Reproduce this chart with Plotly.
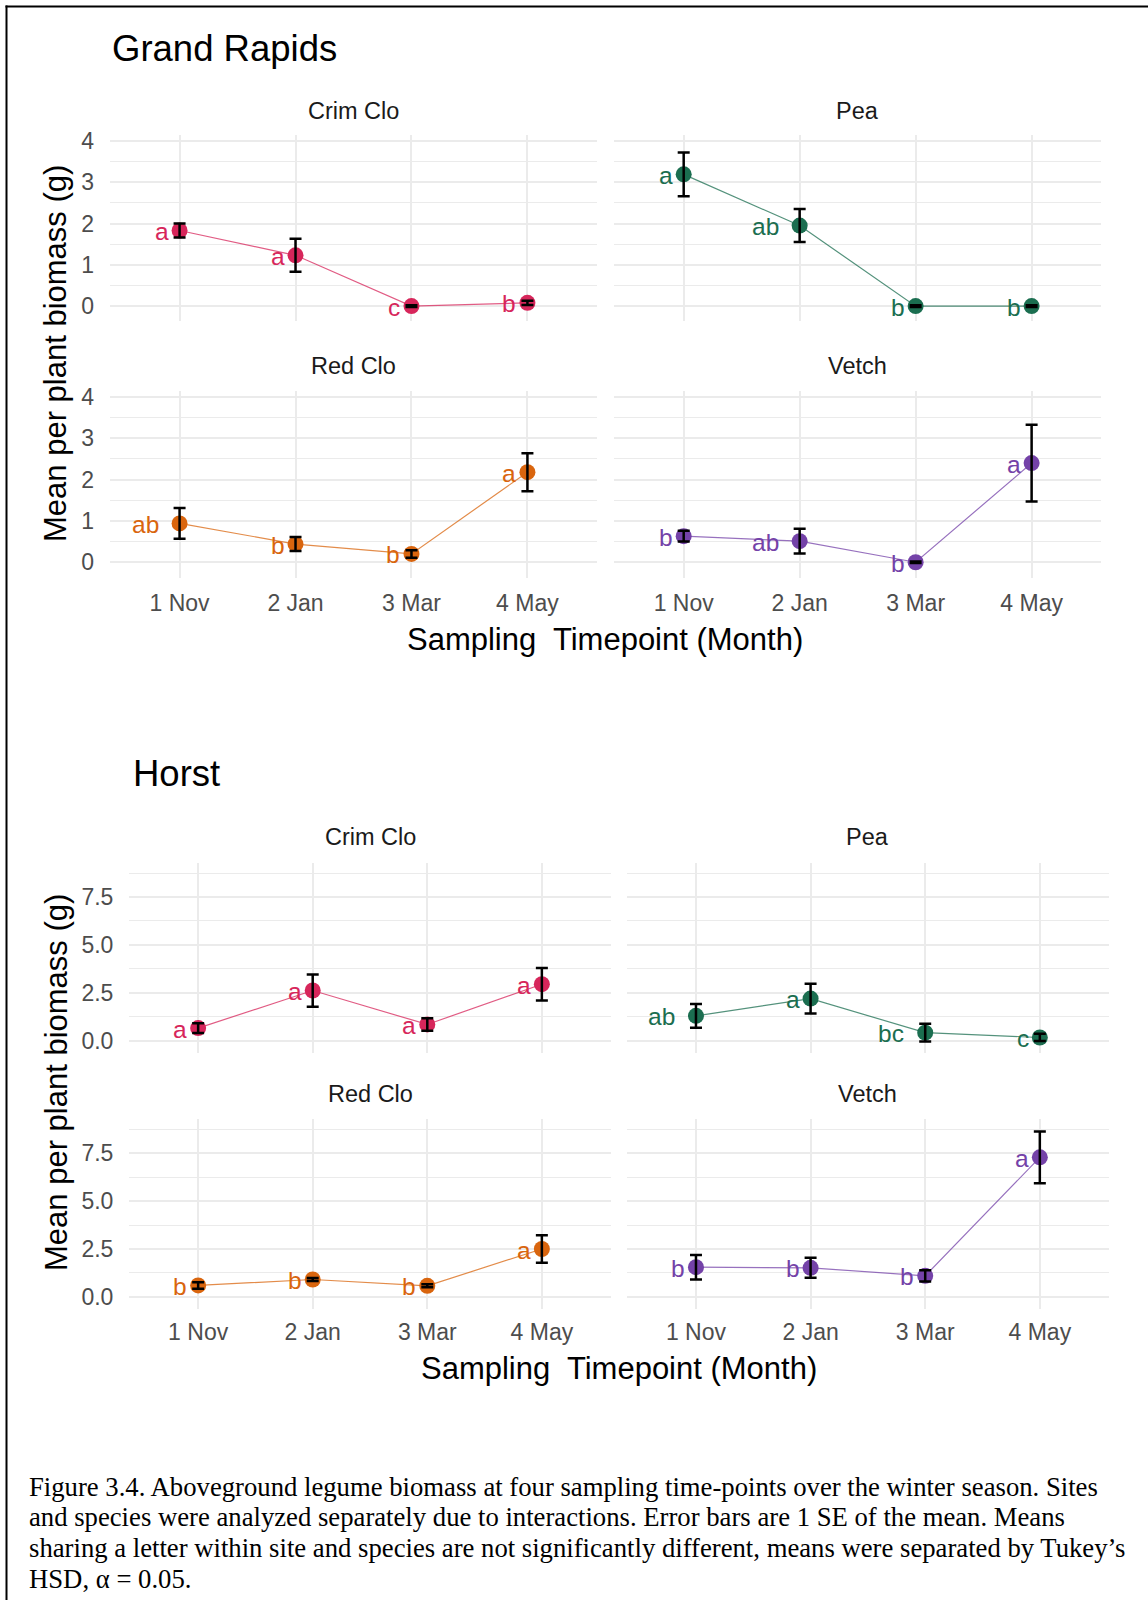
import plotly.graph_objects as go

W, H = 1148, 1600

months = ["1 Nov", "2 Jan", "3 Mar", "4 May"]
species = ["Crim Clo", "Pea", "Red Clo", "Vetch"]
colors = {"Crim Clo": "#D7265B", "Pea": "#1B6E50", "Red Clo": "#D9650E", "Vetch": "#7442A8"}
line_colors = {"Crim Clo": "rgba(215,38,91,0.75)", "Pea": "rgba(27,110,80,0.75)",
               "Red Clo": "rgba(217,101,14,0.75)", "Vetch": "rgba(116,66,168,0.75)"}

# Grand Rapids
gr_crim_mean = [1.83, 1.23, 0.00, 0.08]
gr_crim_se = [0.17, 0.40, 0.02, 0.05]
gr_crim_letters = ["a", "a", "c", "b"]
gr_pea_mean = [3.19, 1.95, 0.00, 0.00]
gr_pea_se = [0.53, 0.40, 0.02, 0.02]
gr_pea_letters = ["a", "ab", "b", "b"]
gr_red_mean = [0.94, 0.44, 0.20, 2.18]
gr_red_se = [0.37, 0.17, 0.09, 0.46]
gr_red_letters = ["ab", "b", "b", "a"]
gr_vetch_mean = [0.63, 0.51, 0.00, 2.40]
gr_vetch_se = [0.13, 0.30, 0.02, 0.93]
gr_vetch_letters = ["b", "ab", "b", "a"]

# Horst
ho_crim_mean = [0.66, 2.62, 0.85, 2.95]
ho_crim_se = [0.25, 0.84, 0.33, 0.85]
ho_crim_letters = ["a", "a", "a", "a"]
ho_pea_mean = [1.30, 2.20, 0.42, 0.17]
ho_pea_se = [0.62, 0.78, 0.46, 0.19]
ho_pea_letters = ["ab", "a", "bc", "c"]
ho_red_mean = [0.60, 0.91, 0.58, 2.50]
ho_red_se = [0.17, 0.08, 0.08, 0.72]
ho_red_letters = ["b", "b", "b", "a"]
ho_vetch_mean = [1.55, 1.52, 1.10, 7.28]
ho_vetch_se = [0.64, 0.52, 0.29, 1.35]
ho_vetch_letters = ["b", "b", "b", "a"]

gr_yticks = [0, 1, 2, 3, 4]
gr_yticktext = ["0", "1", "2", "3", "4"]
ho_yticks = [0, 2.5, 5, 7.5]
ho_yticktext = ["0.0", "2.5", "5.0", "7.5"]

SANS = "Liberation Sans, Arial, sans-serif"
SERIF = "Liberation Serif, Times New Roman, serif"
GRID = "#EBEBEB"


def PY(p):
    # convert a target pixel row into a paper fraction
    return 1 - p / H


panels = [
    ("GR", "Crim Clo", gr_crim_mean, gr_crim_se, gr_crim_letters, (110, 597), (134.7, 321.4)),
    ("GR", "Pea", gr_pea_mean, gr_pea_se, gr_pea_letters, (614.1, 1101.2), (134.7, 321.4)),
    ("GR", "Red Clo", gr_red_mean, gr_red_se, gr_red_letters, (110, 597), (390.8, 577.5)),
    ("GR", "Vetch", gr_vetch_mean, gr_vetch_se, gr_vetch_letters, (614.1, 1101.2), (390.8, 577.5)),
    ("HO", "Crim Clo", ho_crim_mean, ho_crim_se, ho_crim_letters, (129.4, 610.6), (863.3, 1053.0)),
    ("HO", "Pea", ho_pea_mean, ho_pea_se, ho_pea_letters, (627.2, 1108.6), (863.3, 1053.0)),
    ("HO", "Red Clo", ho_red_mean, ho_red_se, ho_red_letters, (129.4, 610.6), (1119.4, 1309.2)),
    ("HO", "Vetch", ho_vetch_mean, ho_vetch_se, ho_vetch_letters, (627.2, 1108.6), (1119.4, 1309.2)),
]

fig = go.Figure()
annotations = []
layout = {}
xcat = [1, 2, 3, 4]

for i, (site, sp, mean, se, letters, (x0, x1), (y0, y1)) in enumerate(panels):
    k = i + 1
    sfx = "" if k == 1 else str(k)
    is_left = sp in ("Crim Clo", "Red Clo")
    is_bottom = sp in ("Red Clo", "Vetch")
    if site == "GR":
        yrange = [-0.37, 4.15]
        ytv, ytt, minor_dt = gr_yticks, gr_yticktext, 0.5
        xstand = 9
    else:
        yrange = [-0.64, 9.26]
        ytv, ytt, minor_dt = ho_yticks, ho_yticktext, 1.25
        xstand = 7
    layout["xaxis" + sfx] = dict(
        domain=[x0 / W, x1 / W], anchor="y" + sfx, range=[0.4, 4.6],
        tickmode="array", tickvals=xcat, ticktext=months,
        showticklabels=is_bottom, showgrid=True, gridcolor=GRID, gridwidth=2,
        zeroline=False, showline=False, ticks="", ticklabelstandoff=xstand,
        tickfont=dict(family=SANS, size=23, color="#4D4D4D"), fixedrange=True,
    )
    layout["yaxis" + sfx] = dict(
        domain=[PY(y1), PY(y0)], anchor="x" + sfx, range=yrange,
        tickmode="array", tickvals=ytv, ticktext=ytt,
        showticklabels=is_left, showgrid=True, gridcolor=GRID, gridwidth=2,
        minor=dict(showgrid=True, gridcolor=GRID, gridwidth=1, dtick=minor_dt, tick0=0),
        zeroline=False, showline=False, ticks="", ticklabelstandoff=15,
        tickfont=dict(family=SANS, size=23, color="#4D4D4D"), fixedrange=True,
    )
    fig.add_trace(go.Scatter(
        x=xcat, y=mean, mode="lines+markers", xaxis="x" + sfx, yaxis="y" + sfx,
        line=dict(color=line_colors[sp], width=1.2),
        marker=dict(color=colors[sp], size=16), showlegend=False, hoverinfo="skip",
    ))
    fig.add_trace(go.Scatter(
        x=xcat, y=mean, mode="markers", xaxis="x" + sfx, yaxis="y" + sfx,
        marker=dict(color="rgba(0,0,0,0)", size=1),
        error_y=dict(type="data", array=se, color="black", thickness=2.5, width=6),
        showlegend=False, hoverinfo="skip",
    ))
    for j, (xv, yv, lt) in enumerate(zip(xcat, mean, letters)):
        gap = 9 if len(lt) == 1 else 19
        annotations.append(dict(
            x=xv, y=yv, xref="x" + sfx, yref="y" + sfx, text=lt, showarrow=False,
            xanchor="right", yanchor="middle", xshift=-gap, yshift=-1,
            font=dict(family=SANS, size=24.5, color=colors[sp]),
        ))
    fy = {"GR": (111.2, 366.3), "HO": (836.7, 1093.9)}[site][1 if is_bottom else 0]
    annotations.append(dict(
        x=(x0 + x1) / 2 / W, y=PY(fy), xref="paper", yref="paper", text=sp,
        showarrow=False, xanchor="center", yanchor="middle",
        font=dict(family=SANS, size=23.5, color="#1A1A1A"),
    ))

# Site titles
annotations.append(dict(x=110.2 / W, y=PY(48), xref="paper", yref="paper", text="Grand Rapids",
                        showarrow=False, xanchor="left", yanchor="middle",
                        font=dict(family=SANS, size=36.5, color="black")))
annotations.append(dict(x=130.6 / W, y=PY(773.5), xref="paper", yref="paper", text="Horst",
                        showarrow=False, xanchor="left", yanchor="middle",
                        font=dict(family=SANS, size=36.5, color="black")))

# Axis titles
xtitle = "Sampling\u00a0 Timepoint (Month)"
ytitle = "Mean per plant biomass (g)"
for (cx, cy) in [(605, 639.8), (619.4, 1368.4)]:
    annotations.append(dict(x=cx / W, y=PY(cy), xref="paper", yref="paper", text=xtitle,
                            showarrow=False, xanchor="center", yanchor="middle",
                            font=dict(family=SANS, size=31, color="black")))
for (cx, cy) in [(56, 354), (56, 1083)]:
    annotations.append(dict(x=cx / W, y=PY(cy), xref="paper", yref="paper", text=ytitle,
                            showarrow=False, xanchor="center", yanchor="middle", textangle=-90,
                            font=dict(family=SANS, size=31, color="black")))

# Caption
caption_lines = [
    "Figure 3.4. Aboveground legume biomass at four sampling time-points over the winter season. Sites",
    "and species were analyzed separately due to interactions. Error bars are 1 SE of the mean. Means",
    "sharing a letter within site and species are not significantly different, means were separated by Tukey\u2019s",
    "HSD, \u03b1 = 0.05.",
]
for ln, cy in zip(caption_lines, [1486.7, 1517.3, 1547.9, 1578.5]):
    annotations.append(dict(x=26.5 / W, y=PY(cy), xref="paper", yref="paper", text=ln,
                            showarrow=False, xanchor="left", yanchor="middle",
                            font=dict(family=SERIF, size=26.7, color="black")))

shapes = [
    dict(type="line", xref="paper", yref="paper", x0=5.5 / W, x1=1, y0=PY(6.5), y1=PY(6.5),
         line=dict(color="black", width=2)),
    dict(type="line", xref="paper", yref="paper", x0=6.5 / W, x1=6.5 / W, y0=PY(5.5), y1=0,
         line=dict(color="black", width=2)),
]

fig.update_layout(
    width=W, height=H, margin=dict(l=0, r=0, t=0, b=0, autoexpand=False),
    paper_bgcolor="white", plot_bgcolor="white",
    annotations=annotations, shapes=shapes, showlegend=False,
    **layout,
)

fig.write_html("out.html", post_script="document.body.style.margin='0px';",
               config={"displayModeBar": False})
